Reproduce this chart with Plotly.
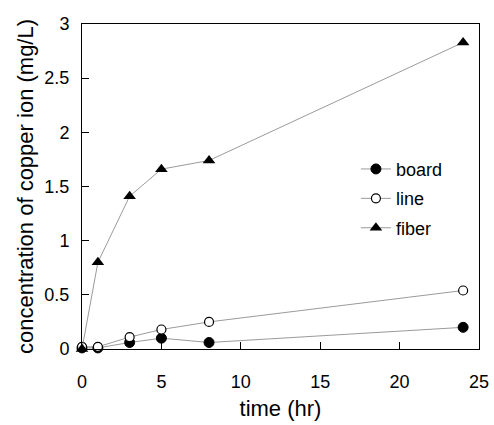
import plotly.graph_objects as go

time_hr = [0, 1, 3, 5, 8, 24]
board = [0.01, 0.01, 0.06, 0.10, 0.06, 0.20]
line_vals = [0.02, 0.02, 0.11, 0.18, 0.25, 0.54]
fiber = [0.0, 0.80, 1.41, 1.66, 1.74, 2.83]
x_ticks = [0, 5, 10, 15, 20, 25]
y_ticks = [0, 0.5, 1, 1.5, 2, 2.5, 3]
y_tick_text = ["0", "0.5", "1", "1.5", "2", "2.5", "3"]

FONT = "Liberation Sans, Arial, sans-serif"
fig = go.Figure()
specs = [
    ("board", board, dict(symbol="circle", size=10, color="black", line=dict(color="black", width=1))),
    ("line", line_vals, dict(symbol="circle", size=9, color="white", line=dict(color="black", width=1.2))),
    ("fiber", fiber, dict(symbol="triangle-up", size=11, color="black", line=dict(color="black", width=0))),
]
for i, (name, vals, mk) in enumerate(specs):
    fig.add_trace(go.Scatter(
        x=time_hr, y=vals, name=name, mode="lines+markers",
        line=dict(color="#808080", width=0.8), marker=mk,
        legendgroup=name, cliponaxis=False,
    ))

fig.update_layout(
    width=494, height=425,
    margin=dict(l=82, r=15, t=24, b=76),
    paper_bgcolor="white", plot_bgcolor="white",
    font=dict(family=FONT, size=18, color="black"),
    showlegend=True,
    legend=dict(x=0.69, y=0.61, xanchor="left", yanchor="top",
                bgcolor="rgba(0,0,0,0)", font=dict(size=18),
                traceorder="grouped", tracegroupgap=3),
    xaxis=dict(range=[0, 25], tickvals=x_ticks, ticks="inside", ticklen=7,
               tickcolor="black", showline=True, mirror=True, linecolor="black",
               linewidth=1, showgrid=False, zeroline=False, ticklabelstandoff=16,
               automargin=False,
               title=dict(text="time (hr)", standoff=10)),
    yaxis=dict(range=[0, 3], tickvals=y_ticks, ticktext=y_tick_text, ticks="inside",
               ticklen=7, tickcolor="black", showline=True, mirror=True,
               linecolor="black", linewidth=1, showgrid=False, zeroline=False,
               ticklabelstandoff=8, automargin=False,
               title=dict(text="concentration of copper ion (mg/L)", standoff=4)),
)
fig.write_html("out.html", config={"displayModeBar": False},
               post_script="document.body.style.margin='0px';")
